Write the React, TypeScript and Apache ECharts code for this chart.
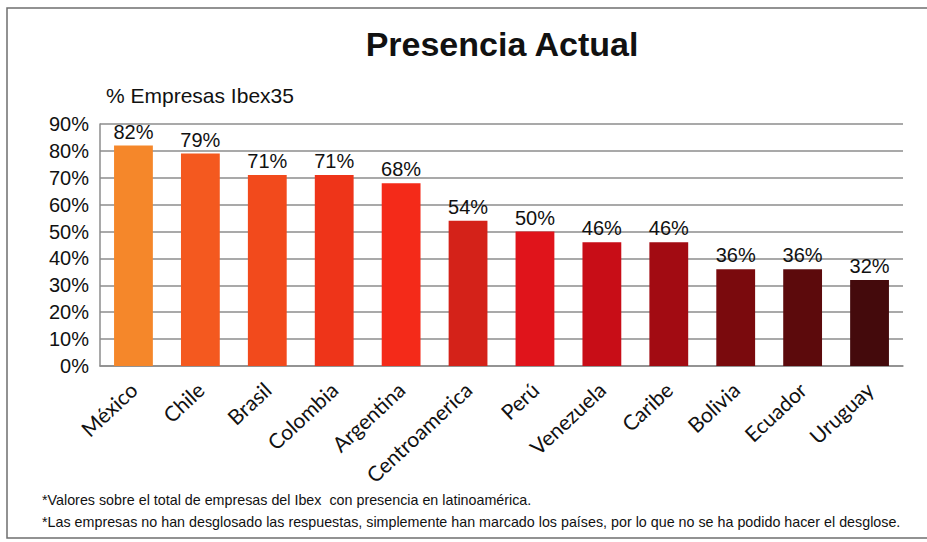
import React, { useEffect, useRef } from "react";
import * as echarts from "echarts";

const categories = ["México", "Chile", "Brasil", "Colombia", "Argentina", "Centroamerica", "Perú", "Venezuela", "Caribe", "Bolivia", "Ecuador", "Uruguay"];
const values = [82, 79, 71, 71, 68, 54, 50, 46, 46, 36, 36, 32];
const barColors = ["#F5872A", "#F4591F", "#F24A1C", "#EE3419", "#F42A19", "#D42219", "#E0141B", "#C80D17", "#A20B12", "#7A0A0D", "#5C0A0C", "#440A0C"];
const yTicks = [0, 10, 20, 30, 40, 50, 60, 70, 80, 90];
const titleText = "Presencia Actual";
const yAxisTitle = "% Empresas Ibex35";
const footnotes = [
  "*Valores sobre el total de empresas del Ibex  con presencia en latinoamérica.",
  "*Las empresas no han desglosado las respuestas, simplemente han marcado los países, por lo que no se ha podido hacer el desglose.",
];

export default function App() {
  const ref = useRef<HTMLDivElement>(null);
  useEffect(() => {
    if (!ref.current) return;
    const chart = echarts.init(ref.current, null, { renderer: "svg" });
    chart.setOption({
      animation: false,
      backgroundColor: "#ffffff",
      grid: { left: 100, right: 24, top: 124, bottom: 176 },
      xAxis: {
        type: "category",
        data: categories,
        axisTick: { show: false },
        axisLine: { show: true, lineStyle: { color: "#8c8c8c", width: 1.5 } },
        axisLabel: {
          rotate: 43,
          margin: 20,
          interval: 0,
          color: "#111",
          fontFamily: "Lato, 'Open Sans', sans-serif",
          fontSize: 21,
        },
      },
      yAxis: {
        type: "value",
        min: yTicks[0],
        max: yTicks[yTicks.length - 1],
        interval: 10,
        axisLine: { show: true, lineStyle: { color: "#8c8c8c", width: 1.5 } },
        axisTick: { show: false },
        splitLine: { show: true, lineStyle: { color: "#8c8c8c", width: 1.5 } },
        axisLabel: {
          margin: 11,
          color: "#111",
          fontFamily: "'Liberation Sans', Arial, sans-serif",
          fontSize: 20,
          formatter: (v: number) => `${v}%`,
        },
      },
      series: [
        {
          type: "bar",
          data: values.map((v, i) => ({ value: v, itemStyle: { color: barColors[i] } })),
          barWidth: "58%",
          label: {
            show: true,
            position: "top",
            distance: 4,
            color: "#111",
            fontFamily: "'Liberation Sans', Arial, sans-serif",
            fontSize: 20,
            formatter: (p: any) => `${p.value}%`,
          },
        },
      ],
      graphic: [
        {
          type: "polyline",
          shape: { points: [[940, 8], [7, 8], [7, 538], [940, 538]] },
          style: { stroke: "#6f6f6f", lineWidth: 1.5, fill: "none" },
        },
        {
          type: "text",
          x: 502,
          y: 44,
          style: {
            text: titleText,
            fill: "#111",
            font: "bold 34px 'Liberation Sans', Arial, sans-serif",
            textAlign: "center",
            textVerticalAlign: "middle",
          },
        },
        {
          type: "text",
          x: 106,
          y: 95,
          style: {
            text: yAxisTitle,
            fill: "#111",
            font: "21px 'Liberation Sans', Arial, sans-serif",
            textAlign: "left",
            textVerticalAlign: "middle",
          },
        },
        {
          type: "text",
          x: 42,
          y: 500,
          style: {
            text: footnotes[0],
            fill: "#111",
            font: "14.3px 'Liberation Sans', Arial, sans-serif",
            textAlign: "left",
            textVerticalAlign: "middle",
          },
        },
        {
          type: "text",
          x: 42,
          y: 522,
          style: {
            text: footnotes[1],
            fill: "#111",
            font: "14.3px 'Liberation Sans', Arial, sans-serif",
            textAlign: "left",
            textVerticalAlign: "middle",
          },
        },
      ],
    });
    return () => chart.dispose();
  }, []);
  return <div ref={ref} style={{ position: "absolute", left: 0, top: 0, width: 927, height: 542 }} />;
}
